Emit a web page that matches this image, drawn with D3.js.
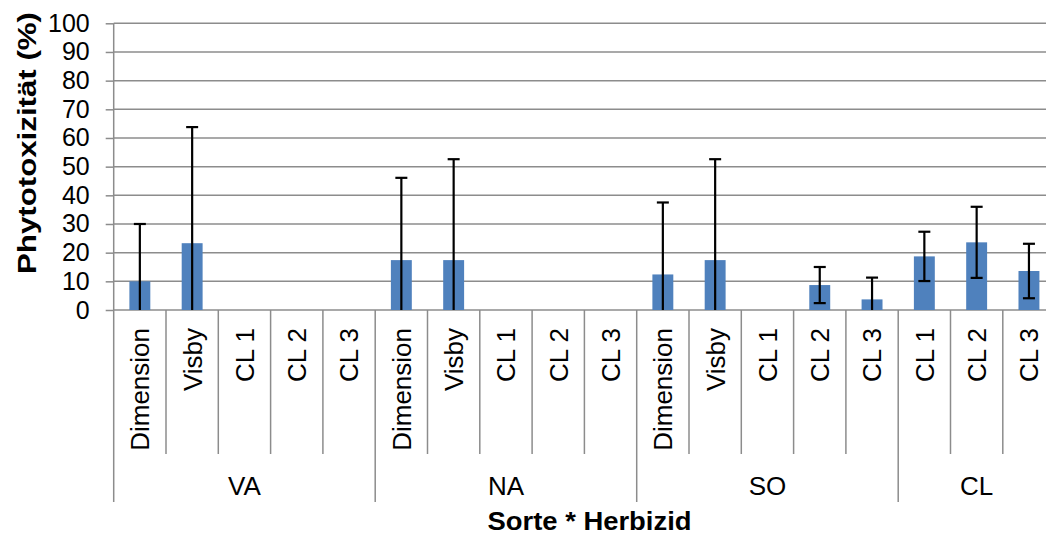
<!DOCTYPE html>
<html>
<head>
<meta charset="utf-8">
<script src="https://cdn.jsdelivr.net/npm/d3@7"></script>
<style>
  html, body { margin: 0; padding: 0; background: #fff; }
  svg { display: block; font-family: "Liberation Sans", Arial, sans-serif; }
</style>
</head>
<body>
<svg id="chart" width="1046" height="536"></svg>
<script>
const groups = ["VA", "NA", "SO", "CL"];
const subcats = [
  ["Dimension", "Visby", "CL 1", "CL 2", "CL 3"],
  ["Dimension", "Visby", "CL 1", "CL 2", "CL 3"],
  ["Dimension", "Visby", "CL 1", "CL 2", "CL 3"],
  ["CL 1", "CL 2", "CL 3"]
];
const values = [10, 23.3, 0, 0, 0, 17.4, 17.4, 0, 0, 0, 12.4, 17.4, 0, 8.7, 3.7, 18.7, 23.6, 13.6];
const errors = [20, 40.5, 0, 0, 0, 28.7, 35.2, 0, 0, 0, 25.1, 35.2, 0, 6.3, 7.6, 8.6, 12.4, 9.5];
const yTicks = [0, 10, 20, 30, 40, 50, 60, 70, 80, 90, 100];
const yTitle = "Phytotoxizität (%)";
const xTitle = "Sorte * Herbizid";

(function () {
const svg = d3.select("#chart");
const left = 113.7, right = 113.7 + 18 * 52.3;
const plotTop = 23.3, base = 310;
const catEnd = 454, grpEnd = 502;

const cats = [];
subcats.forEach((s, gi) => s.forEach((c, ci) => cats.push({ g: gi, label: c, key: gi + "-" + ci })));
cats.forEach((c, i) => { c.v = values[i]; c.e = errors[i]; });

const x = d3.scaleBand().domain(cats.map(c => c.key)).range([left, right]).paddingInner(0).paddingOuter(0);
const y = d3.scaleLinear().domain([0, 100]).range([base, plotTop]);
const gridColor = "#8c8c8c";

// gridlines
svg.append("g").selectAll("line").data(yTicks).join("line")
  .attr("x1", left).attr("x2", right)
  .attr("y1", d => y(d)).attr("y2", d => y(d))
  .attr("stroke", gridColor).attr("stroke-width", 1.5);

// y axis
const yAxis = d3.axisLeft(y).tickValues(yTicks).tickSize(8).tickPadding(16);
const ga = svg.append("g").attr("transform", `translate(${left},0)`).call(yAxis);
ga.select(".domain").remove();
ga.selectAll(".tick line").attr("stroke", gridColor).attr("stroke-width", 1.5);
ga.selectAll(".tick text").attr("font-size", 25).attr("fill", "#000")
  .attr("font-family", '"Liberation Sans", Arial, sans-serif');

// left axis line
svg.append("line").attr("x1", left).attr("x2", left).attr("y1", plotTop).attr("y2", grpEnd)
  .attr("stroke", gridColor).attr("stroke-width", 1.5);

// category separators
const bw = x.bandwidth();
const groupStarts = [];
let idx = 0;
subcats.forEach(s => { groupStarts.push(idx); idx += s.length; });
cats.forEach((c, i) => {
  if (i === 0) return;
  const xx = x(c.key);
  const isGroup = groupStarts.includes(i);
  svg.append("line").attr("x1", xx).attr("x2", xx).attr("y1", base)
    .attr("y2", isGroup ? grpEnd : catEnd)
    .attr("stroke", gridColor).attr("stroke-width", 1.5);
});

// bars
const barW = bw * 0.4;
svg.append("g").selectAll("rect").data(cats).join("rect")
  .attr("x", d => x(d.key) + bw / 2 - barW / 2)
  .attr("width", barW)
  .attr("y", d => y(d.v))
  .attr("height", d => base - y(d.v))
  .attr("fill", "#4F81BD");

// error bars
const eg = svg.append("g").attr("stroke", "#000").attr("stroke-width", 2.2);
cats.filter(d => d.e > 0).forEach(d => {
  const cx = x(d.key) + bw / 2;
  const hi = d.v + d.e, lo = Math.max(0, d.v - d.e);
  eg.append("line").attr("x1", cx).attr("x2", cx).attr("y1", y(hi)).attr("y2", y(lo));
  eg.append("line").attr("x1", cx - 6).attr("x2", cx + 6).attr("y1", y(hi)).attr("y2", y(hi));
  if (d.v - d.e > 0) {
    eg.append("line").attr("x1", cx - 6).attr("x2", cx + 6).attr("y1", y(lo)).attr("y2", y(lo));
  }
});

// category labels
svg.append("g").selectAll("text").data(cats).join("text")
  .attr("transform", d => `translate(${x(d.key) + bw / 2},328) rotate(-90)`)
  .attr("text-anchor", "end")
  .attr("dy", "0.36em")
  .attr("font-size", 26)
  .text(d => d.label);

// group labels
groups.forEach((g, gi) => {
  const s = groupStarts[gi];
  const e = s + subcats[gi].length;
  const cx = left + (s + e) / 2 * bw;
  svg.append("text").attr("x", cx).attr("y", 495)
    .attr("text-anchor", "middle").attr("font-size", 26).text(g);
});

// axis titles
svg.append("text").attr("transform", `translate(36,143) rotate(-90)`)
  .attr("text-anchor", "middle").attr("font-size", 26).attr("font-weight", "bold")
  .attr("textLength", 262).attr("lengthAdjust", "spacingAndGlyphs").text(yTitle);
svg.append("text").attr("x", 589.5).attr("y", 530)
  .attr("text-anchor", "middle").attr("font-size", 26).attr("font-weight", "bold")
  .attr("textLength", 204).attr("lengthAdjust", "spacingAndGlyphs").text(xTitle);
})();
</script>
</body>
</html>
